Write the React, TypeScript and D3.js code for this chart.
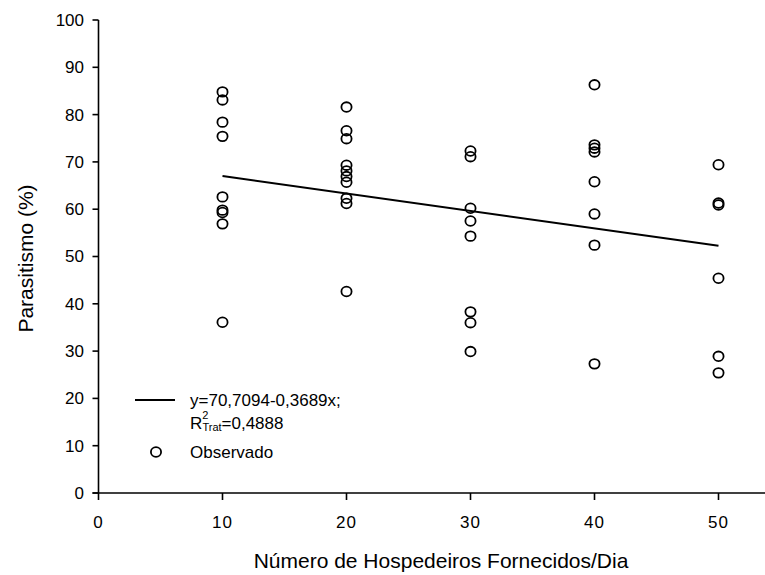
import React from "react";
import * as d3 from "d3";

const xTicks = [0, 10, 20, 30, 40, 50];
const yTicks = [0, 10, 20, 30, 40, 50, 60, 70, 80, 90, 100];

const obs10 = [84.8, 83.1, 78.4, 75.4, 62.6, 59.8, 59.3, 56.9, 36.1];
const obs20 = [81.6, 76.6, 74.9, 69.3, 68.1, 66.9, 65.7, 62.3, 61.2, 42.6];
const obs30 = [72.3, 71.1, 60.2, 57.5, 54.3, 38.3, 36.0, 29.9];
const obs40 = [86.3, 73.6, 72.9, 72.1, 65.8, 59.0, 52.4, 27.3];
const obs50 = [69.4, 61.3, 60.9, 45.4, 28.9, 25.4];

const groups: [number, number[]][] = [
  [10, obs10],
  [20, obs20],
  [30, obs30],
  [40, obs40],
  [50, obs50],
];

const fitX = [10, 50];
const fitY = [67.02, 52.26];

const FONT = "'Liberation Sans', Arial, Helvetica, sans-serif";

export default function App() {
  const W = 765;
  const H = 575;
  const x = d3.scaleLinear().domain([0, 55]).range([98.5, 780.5]);
  const y = d3.scaleLinear().domain([0, 100]).range([493, 20]);
  const points = groups.flatMap(([gx, vals]) => vals.map((v) => [gx, v]));
  const line = d3
    .line<number>()
    .x((d) => x(fitX[d]))
    .y((d) => y(fitY[d]));

  return (
    <svg
      width={W}
      height={H}
      style={{ position: "absolute", left: 0, top: 0, background: "#fff" }}
      fontFamily={FONT}
    >
      <rect x={0} y={0} width={W} height={H} fill="#fff" />
      <line x1={x(0)} x2={x(0)} y1={y(0)} y2={y(100)} stroke="#000" strokeWidth={1.6} />
      <line x1={x(0) - 6} x2={W} y1={y(0)} y2={y(0)} stroke="#000" strokeWidth={1.6} />
      {yTicks.map((t) => (
        <g key={"y" + t}>
          <line x1={x(0) - 6} x2={x(0)} y1={y(t)} y2={y(t)} stroke="#000" strokeWidth={1.6} />
          <text x={84} y={y(t)} dy="0.35em" textAnchor="end" fontSize={17} fill="#000">
            {t}
          </text>
        </g>
      ))}
      {xTicks.map((t) => (
        <g key={"x" + t}>
          <line x1={x(t)} x2={x(t)} y1={y(0)} y2={y(0) + 7} stroke="#000" strokeWidth={1.6} />
          <text x={x(t)} y={528} textAnchor="middle" fontSize={17} letterSpacing={1} fill="#000">
            {t}
          </text>
        </g>
      ))}
      <text
        transform={`translate(33,${(y(0) + y(100)) / 2 + 2}) rotate(-90)`}
        textAnchor="middle"
        fontSize={21}
        fill="#000"
      >
        Parasitismo (%)
      </text>
      <text x={441} y={568} textAnchor="middle" fontSize={21} fill="#000">
        Número de Hospedeiros Fornecidos/Dia
      </text>
      <path d={line([0, 1]) || ""} fill="none" stroke="#000" strokeWidth={2} />
      {points.map((p, i) => (
        <ellipse
          key={i}
          cx={x(p[0])}
          cy={y(p[1])}
          rx={5.1}
          ry={4.8}
          fill="none"
          stroke="#000"
          strokeWidth={1.8}
        />
      ))}
      <line x1={135} x2={175} y1={400} y2={400} stroke="#000" strokeWidth={2} />
      <text x={190} y={406} fontSize={17} fill="#000">
        y=70,7094-0,3689x;
      </text>
      <text x={190} y={429} fontSize={17} fill="#000">
        R
        <tspan fontSize={11} dy={-10}>2</tspan>
        <tspan fontSize={11} dx={-6} dy={12}>Trat</tspan>
        <tspan dy={-2}>=0,4888</tspan>
      </text>
      <ellipse cx={156} cy={452} rx={5.1} ry={4.8} fill="none" stroke="#000" strokeWidth={1.8} />
      <text x={190} y={458} fontSize={17} fill="#000">
        Observado
      </text>
    </svg>
  );
}
